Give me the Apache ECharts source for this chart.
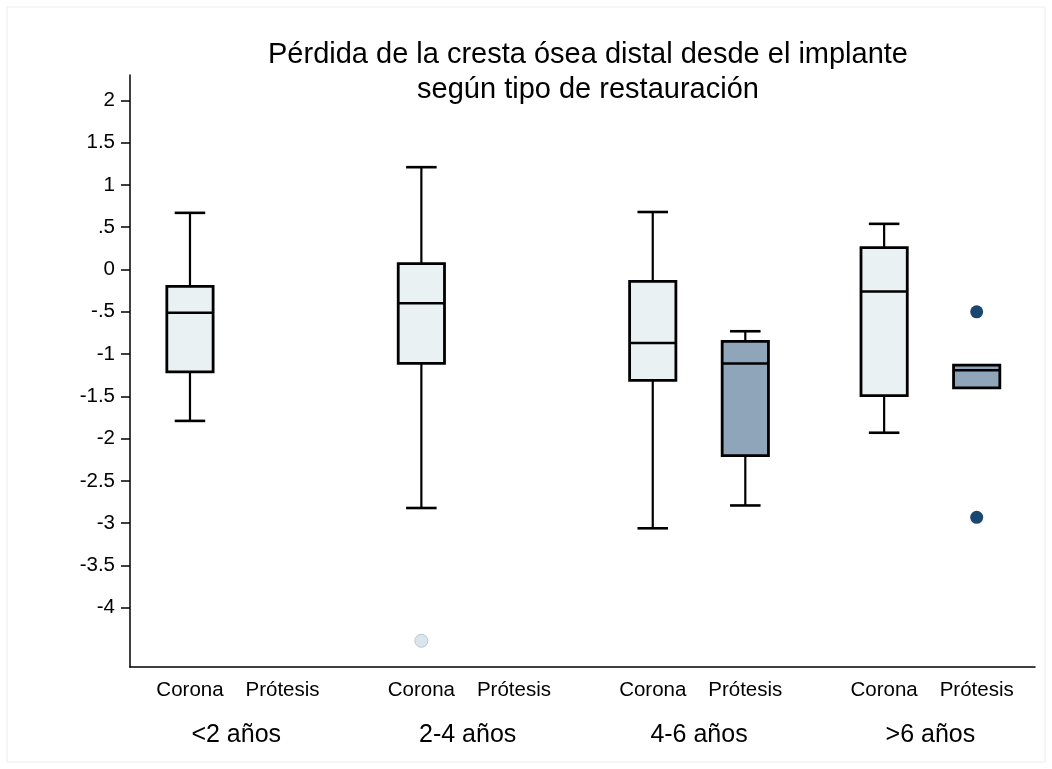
<!DOCTYPE html>
<html>
<head>
<meta charset="utf-8">
<script src="https://cdn.jsdelivr.net/npm/echarts@6/dist/echarts.min.js"></script>
<style>
  html, body { margin: 0; padding: 0; background: #fff; }
  #main { width: 1052px; height: 769px; }
</style>
</head>
<body>
<div id="main"></div>
<script>
// etiquetas
const subLabels = ['Corona', 'Prótesis'];
const groupLabels = ['<2 años', '2-4 años', '4-6 años', '>6 años'];
const groupPos = [1, 6, 11, 16];
const subPos = [0, 2, 5, 7, 10, 12, 15, 17];
const yTicks = [-4, -3.5, -3, -2.5, -2, -1.5, -1, -0.5, 0, 0.5, 1, 1.5, 2];

// cajas: posicion, tipo (0 corona, 1 protesis) y estadisticos
const boxX = [0, 5, 10, 12, 15, 17];
const boxKind = [0, 0, 0, 1, 0, 1];
const whiskerLow = [-1.79, -2.82, -3.06, -2.79, -1.93, -1.40];
const q1 = [-1.21, -1.11, -1.31, -2.20, -1.49, -1.40];
const median = [-0.51, -0.40, -0.87, -1.11, -0.26, -1.19];
const q3 = [-0.20, 0.07, -0.14, -0.85, 0.26, -1.13];
const whiskerHigh = [0.67, 1.21, 0.68, -0.73, 0.54, -1.13];

// valores atipicos
const outCoronaX = [5];
const outCoronaY = [-4.39];
const outProtX = [17, 17];
const outProtY = [-0.50, -2.93];

const boxFill = ['#eaf1f3', '#8fa5b9'];
const font = '"Liberation Sans", Arial, Helvetica, sans-serif';

const boxData = boxX.map((x, i) => [x, whiskerLow[i], q1[i], median[i], q3[i], whiskerHigh[i], boxKind[i]]);

function renderBox(params, api) {
  const x = api.value(0);
  const lo = api.coord([x, api.value(1)]);
  const b1 = api.coord([x, api.value(2)]);
  const md = api.coord([x, api.value(3)]);
  const b3 = api.coord([x, api.value(4)]);
  const hi = api.coord([x, api.value(5)]);
  const w = api.size([1, 0])[0];
  const cap = w * 0.33;
  const cx = lo[0];
  const lineStyle = { stroke: '#000', lineWidth: 2.2 };
  const children = [];
  if (Math.abs(hi[1] - b3[1]) > 0.5) {
    children.push({ type: 'line', shape: { x1: cx, y1: hi[1], x2: cx, y2: b3[1] }, style: lineStyle });
    children.push({ type: 'line', shape: { x1: cx - cap, y1: hi[1], x2: cx + cap, y2: hi[1] }, style: { stroke: '#000', lineWidth: 2.6 } });
  }
  if (Math.abs(lo[1] - b1[1]) > 0.5) {
    children.push({ type: 'line', shape: { x1: cx, y1: b1[1], x2: cx, y2: lo[1] }, style: lineStyle });
    children.push({ type: 'line', shape: { x1: cx - cap, y1: lo[1], x2: cx + cap, y2: lo[1] }, style: { stroke: '#000', lineWidth: 2.6 } });
  }
  children.push({
    type: 'rect',
    shape: { x: cx - w / 2, y: b3[1], width: w, height: b1[1] - b3[1] },
    style: { fill: boxFill[api.value(6)], stroke: '#000', lineWidth: 2.8 }
  });
  children.push({ type: 'line', shape: { x1: cx - w / 2, y1: md[1], x2: cx + w / 2, y2: md[1] }, style: { stroke: '#000', lineWidth: 2.5 } });
  return { type: 'group', children: children };
}

const chart = echarts.init(document.getElementById('main'));
chart.setOption({
  backgroundColor: '#fff',
  animation: false,
  title: {
    text: 'Pérdida de la cresta ósea distal desde el implante\nsegún tipo de restauración',
    left: 583,
    textAlign: 'center',
    top: 32,
    textStyle: { fontFamily: font, fontSize: 29, fontWeight: 'normal', color: '#000', lineHeight: 35 }
  },
  graphic: [{
    type: 'rect',
    shape: { x: 7, y: 7, width: 1038, height: 755 },
    style: { fill: 'none', stroke: '#ececec', lineWidth: 1 },
    silent: true
  }],
  grid: { left: 130, right: 17, top: 75, bottom: 102 },
  xAxis: [{
    type: 'value',
    min: -1.296,
    max: 18.26,
    splitLine: { show: false },
    axisLine: { onZero: false, lineStyle: { color: '#000', width: 1.5 } },
    axisTick: { show: false },
    axisLabel: {
      customValues: subPos,
      formatter: v => subLabels[v % 5 === 0 ? 0 : 1],
      margin: 13,
      color: '#000',
      fontFamily: font,
      fontSize: 20.5
    }
  }, {
    type: 'value',
    position: 'bottom',
    min: -1.296,
    max: 18.26,
    splitLine: { show: false },
    axisLine: { show: false, onZero: false },
    axisTick: { show: false },
    axisLabel: {
      customValues: groupPos,
      formatter: v => groupLabels[groupPos.indexOf(v)],
      margin: 56,
      color: '#000',
      fontFamily: font,
      fontSize: 25
    }
  }],
  yAxis: {
    type: 'value',
    min: -4.7,
    max: 2.3,
    splitLine: { show: false },
    axisLine: { show: true, onZero: false, lineStyle: { color: '#000', width: 1.5 } },
    axisTick: { show: true, customValues: yTicks, length: 9, lineStyle: { color: '#000', width: 1.5 } },
    axisLabel: {
      customValues: yTicks,
      formatter: v => String(v).replace('0.', '.'),
      margin: 15,
      color: '#000',
      fontFamily: font,
      fontSize: 20.5
    }
  },
  series: [{
    type: 'custom',
    renderItem: renderBox,
    encode: { x: 0, y: [1, 2, 3, 4, 5] },
    data: boxData,
    z: 2
  }, {
    type: 'scatter',
    data: outCoronaX.map((x, i) => [x, outCoronaY[i]]),
    symbolSize: 13,
    itemStyle: { color: '#dbe5ec', borderColor: '#b9c9d5', borderWidth: 1, opacity: 1 },
    z: 3
  }, {
    type: 'scatter',
    data: outProtX.map((x, i) => [x, outProtY[i]]),
    symbolSize: 13,
    itemStyle: { color: '#1a476f', opacity: 1 },
    z: 3
  }]
});
</script>
</body>
</html>
